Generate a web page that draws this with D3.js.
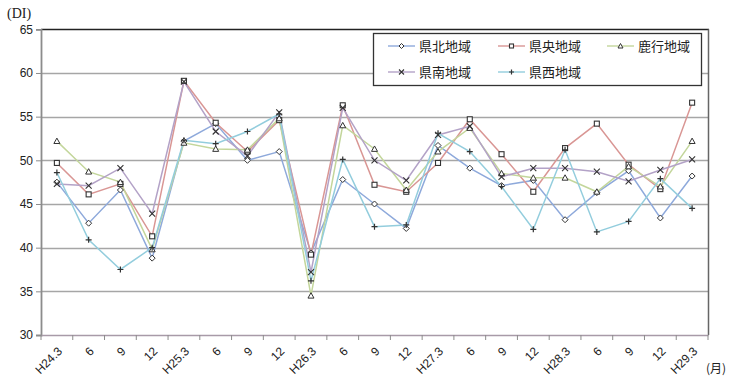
<!DOCTYPE html>
<html><head><meta charset="utf-8">
<script src="https://cdn.jsdelivr.net/npm/d3@7"></script>
<style>
html,body{margin:0;padding:0;background:#fff;}
svg{display:block;}
</style></head>
<body>
<svg id="c" width="730" height="379"></svg>
<script>
const categories = ["H24.3","6","9","12","H25.3","6","9","12","H26.3","6","9","12","H27.3","6","9","12","H28.3","6","9","12","H29.3"];
const seriesNames = ["県北地域","県央地域","鹿行地域","県南地域","県西地域"];
const kenpoku = [47.5,42.8,46.6,38.8,52.2,54.2,50.0,51.0,39.4,47.8,45.0,42.2,51.7,49.1,47.1,47.7,43.2,46.3,48.8,43.4,48.2];
const kenou   = [49.7,46.1,47.3,41.3,59.1,54.3,51.0,54.6,39.2,56.3,47.2,46.4,49.7,54.7,50.7,46.4,51.4,54.2,49.5,46.7,56.6];
const rokko   = [52.2,48.7,47.5,39.8,52.0,51.3,51.2,54.8,34.5,54.0,51.3,46.6,51.0,53.7,48.5,48.0,48.0,46.4,49.3,47.0,52.2];
const kennan  = [47.3,47.1,49.1,43.9,59.0,53.3,50.5,55.5,37.2,56.0,50.0,47.7,52.9,53.9,48.1,49.1,49.1,48.7,47.6,48.9,50.1];
const kensei  = [48.6,40.9,37.5,40.0,52.3,51.9,53.3,55.3,36.2,50.1,42.4,42.6,53.1,51.0,47.0,42.1,51.2,41.8,43.0,47.9,44.5];
const yTicks = [30,35,40,45,50,55,60,65];

const seriesValues = [kenpoku, kenou, rokko, kennan, kensei];
const colors = ["#8ea9db","#d99694","#c3d69b","#b3a2c7","#93cddd"];
const markers = ["diamond","square","triangle","x","plus"];

const svg = d3.select("#c");
const L = 41, R = 708, T = 29.3, B = 335;
const x = d3.scaleBand().domain(d3.range(categories.length)).range([L, R]).paddingInner(0).paddingOuter(0);
const xc = i => x(i) + x.bandwidth()/2;
const y = d3.scaleLinear().domain([30,65]).range([B, T]);

// gridlines
svg.append("g").selectAll("line").data(yTicks.filter(v => v>30 && v<65)).join("line")
  .attr("x1", L).attr("x2", R).attr("y1", d => Math.round(y(d))+0.5).attr("y2", d => Math.round(y(d))+0.5)
  .attr("stroke", "#a6a6a6").attr("stroke-width", 1.5);
// top border
svg.append("line").attr("x1", L).attr("x2", R+1).attr("y1", Math.round(y(65))+0.5).attr("y2", Math.round(y(65))+0.5)
  .attr("stroke", "#222").attr("stroke-width", 1.5);
// right border
svg.append("line").attr("x1", R+0.5).attr("x2", R+0.5).attr("y1", y(65)).attr("y2", B)
  .attr("stroke", "#666").attr("stroke-width", 1.5);

// y axis
const yAxis = d3.axisLeft(y).tickValues(yTicks).tickSize(5).tickPadding(3).tickFormat(d3.format("d"));
const gy = svg.append("g").attr("transform", `translate(${L},0)`).call(yAxis);
gy.select(".domain").attr("stroke", "#8c8c8c").attr("stroke-width", 1.8);
gy.selectAll(".tick line").attr("stroke", "#8c8c8c");
gy.selectAll("text").attr("font-family", "'Liberation Sans', Arial, sans-serif").attr("font-size", 12).attr("fill", "#222");

// x axis
const xAxis = d3.axisBottom(x).tickSize(0).tickFormat(i => categories[i]);
const gx = svg.append("g").attr("transform", `translate(0,${B})`).call(xAxis);
gx.select(".domain").attr("stroke", "#a89aa8").attr("stroke-width", 1.5);
gx.selectAll("text")
  .attr("font-family", "'Liberation Sans', Arial, sans-serif").attr("font-size", 12).attr("fill", "#222")
  .attr("text-anchor", "end").attr("dy", 0).attr("y", 0)
  .attr("transform", `translate(6,17) rotate(-45)`);
// category boundary ticks
svg.append("g").selectAll("line").data(d3.range(categories.length+1)).join("line")
  .attr("x1", i => (i < categories.length ? x(i) : R)).attr("x2", i => (i < categories.length ? x(i) : R))
  .attr("y1", B).attr("y2", B+5).attr("stroke", "#8c8c8c").attr("stroke-width", 1);

// marker drawing
function drawMarker(g, type, cx, cy, s) {
  const stroke = "#333";
  if (type === "diamond") {
    g.append("path").attr("d", `M${cx},${cy-s} L${cx+s},${cy} L${cx},${cy+s} L${cx-s},${cy} Z`)
      .attr("fill", "#fff").attr("stroke", stroke).attr("stroke-width", 1);
  } else if (type === "square") {
    g.append("rect").attr("x", cx-s+0.5).attr("y", cy-s+0.5).attr("width", 2*s-1).attr("height", 2*s-1)
      .attr("fill", "#fff").attr("stroke", stroke).attr("stroke-width", 1.1);
  } else if (type === "triangle") {
    g.append("path").attr("d", `M${cx},${cy-s} L${cx+s},${cy+s*0.8} L${cx-s},${cy+s*0.8} Z`)
      .attr("fill", "#fff").attr("stroke", stroke).attr("stroke-width", 1);
  } else if (type === "x") {
    g.append("path").attr("d", `M${cx-s},${cy-s} L${cx+s},${cy+s} M${cx+s},${cy-s} L${cx-s},${cy+s}`)
      .attr("stroke", stroke).attr("stroke-width", 1.1);
  } else if (type === "plus") {
    g.append("path").attr("d", `M${cx-s},${cy} L${cx+s},${cy} M${cx},${cy-s} L${cx},${cy+s}`)
      .attr("stroke", stroke).attr("stroke-width", 1.2);
  }
}

const line = d3.line().x((d,i) => xc(i)).y(d => y(d));
const plot = svg.append("g");
seriesValues.forEach((vals, si) => {
  plot.append("path").attr("d", line(vals)).attr("fill", "none")
    .attr("stroke", colors[si]).attr("stroke-width", 1.5);
});
seriesValues.forEach((vals, si) => {
  const g = plot.append("g");
  vals.forEach((v, i) => drawMarker(g, markers[si], xc(i), y(v), 3));
});

// legend
const lg = svg.append("g");
lg.append("rect").attr("x", 373.5).attr("y", 33.5).attr("width", 328).attr("height", 52)
  .attr("fill", "#fff").attr("stroke", "#333").attr("stroke-width", 1.3);
const legPos = [[388,46],[498,46],[607,46],[388,72],[498,72]];
seriesNames.forEach((name, si) => {
  const [lx, ly] = legPos[si];
  lg.append("line").attr("x1", lx).attr("x2", lx+27).attr("y1", ly).attr("y2", ly)
    .attr("stroke", colors[si]).attr("stroke-width", 1.4);
  drawMarker(lg, markers[si], lx+13.5, ly, 2.5);
  lg.append("text").attr("x", lx+31).attr("y", ly+5).text(name)
    .attr("font-family", "'Noto Sans CJK JP', sans-serif").attr("font-size", 13).attr("fill", "#222");
});

// axis titles
svg.append("text").attr("x", 7).attr("y", 18).text("(DI)")
  .attr("font-family", "'Liberation Serif', serif").attr("font-size", 14).attr("fill", "#222");
svg.append("text").attr("x", 706).attr("y", 373).text("(月)")
  .attr("font-family", "'Noto Sans CJK JP', sans-serif").attr("font-size", 12).attr("fill", "#222");
</script>
</body></html>
